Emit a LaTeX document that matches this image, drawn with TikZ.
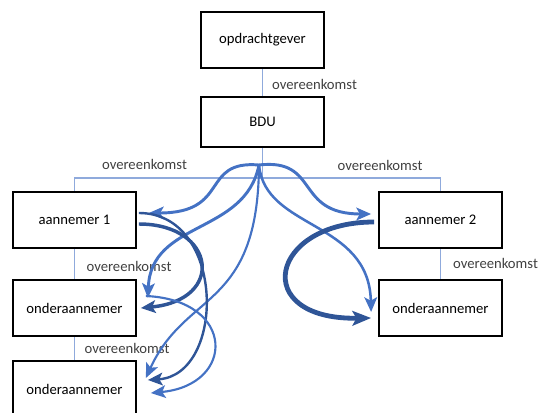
\documentclass[tikz,border=0pt]{standalone}
\usepackage{fontspec}
\setmainfont{Carlito}
\usetikzlibrary{arrows.meta}
\definecolor{linkblue}{HTML}{8FAADC}
\definecolor{flowblue}{HTML}{4472C4}
\definecolor{darkblue}{HTML}{2F5597}
\definecolor{txtgray}{HTML}{404040}
\tikzset{
  box/.style={draw, line width=1.6pt, fill=white, minimum width=92pt,
    minimum height=42pt, font=\fontsize{11}{13}\selectfont},
  link/.style={draw=linkblue, line width=0.8pt},
  agreetext/.style={text=txtgray, inner sep=1pt, font=\fontsize{11}{13}\selectfont},
  flow/.style={draw=flowblue, line width=2.2pt, -{Stealth[length=11pt,width=9.5pt,inset=2.5pt]}},
  darkflow/.style={flow, draw=darkblue},
}
\begin{document}
\begin{tikzpicture}[x=0.75pt,y=-0.75pt]
	  \clip (0,0) rectangle (542,413);
	  % boxes
	  \node[box] (opd) at (262.5,40) {opdrachtgever};
	  \node[box,minimum height=37.5pt] (bdu) at (262.5,122) {BDU};
	  \node[box] (a1) at (74.5,220) {aannemer 1};
	  \node[box] (oa1) at (74.5,308) {onderaannemer};
	  \node[box] (oa2) at (74.5,389) {onderaannemer};
	  \node[box] (a2) at (440.5,220) {aannemer 2};
	  \node[box] (oa3) at (440.5,308) {onderaannemer};
	  % agreements
	  \coordinate (split) at (262.5,178);
	  \draw[link] (opd) -- (bdu);
	  \draw[link] (bdu) -- (split) -| (a1);
	  \draw[link] (split) -| (a2);
	  \draw[link] (a1) -- (oa1);
	  \draw[link] (oa1) -- (oa2);
	  \draw[link] (a2) -- (oa3);
	  \node[agreetext] (t1) at (314.5,84) {overeenkomst};
	  \node[agreetext] (t2) at (144.5,164) {overeenkomst};
	  \node[agreetext] (t3) at (380,165) {overeenkomst};
	  \node[agreetext] (t4) at (129,266) {overeenkomst};
	  \node[agreetext] (t5) at (127,348) {overeenkomst};
	  \node[agreetext] (t6) at (495.5,263) {overeenkomst};
	  % curved arrows
	  \coordinate (hub) at (259,165);
	  \draw[flow] (hub) .. controls +(-59,-5) and +(82,0) .. ([shift={(12,-7)}]a1.east);
	  \draw[flow] (hub) .. controls +(61,-7) and +(-77,0) .. ([shift={(-7,-6)}]a2.west);
	  \draw[flow] (hub) .. controls +(-14,70) and +(3,-78) .. ([shift={(11,-10)}]oa1.east);
	  \draw[flow,line width=1.6pt] (hub) .. controls +(-1,145) and +(40,-88) .. ([shift={(9,-11)}]oa2.east);
	  \draw[flow,line width=1.9pt] (hub) .. controls +(6,65) and +(-2,-92) .. ([shift={(-7,4)}]oa3.west);
	  \draw[darkflow,line width=2.6pt] ([shift={(2,4)}]a1.east) .. controls +(77,0) and +(85,-8) .. ([shift={(4,0)}]oa1.east);
	  \draw[darkflow,line width=1.8pt] ([shift={(2,-7)}]a1.east) .. controls +(87,0) and +(78,-5) .. ([shift={(11,-9)}]oa2.east);
	  \draw[flow,line width=1.6pt] ([shift={(9,-12)}]oa1.east) .. controls +(90,4) and +(85,-8) .. ([shift={(14,4)}]oa2.east);
	  \draw[darkflow,line width=3.6pt,-{Stealth[length=14pt,width=11pt,inset=3pt]}] ([shift={(-4,2)}]a2.west) .. controls +(-105,0) and +(-122,2) .. ([shift={(-7,10)}]oa3.west);
\end{tikzpicture}
\end{document}
